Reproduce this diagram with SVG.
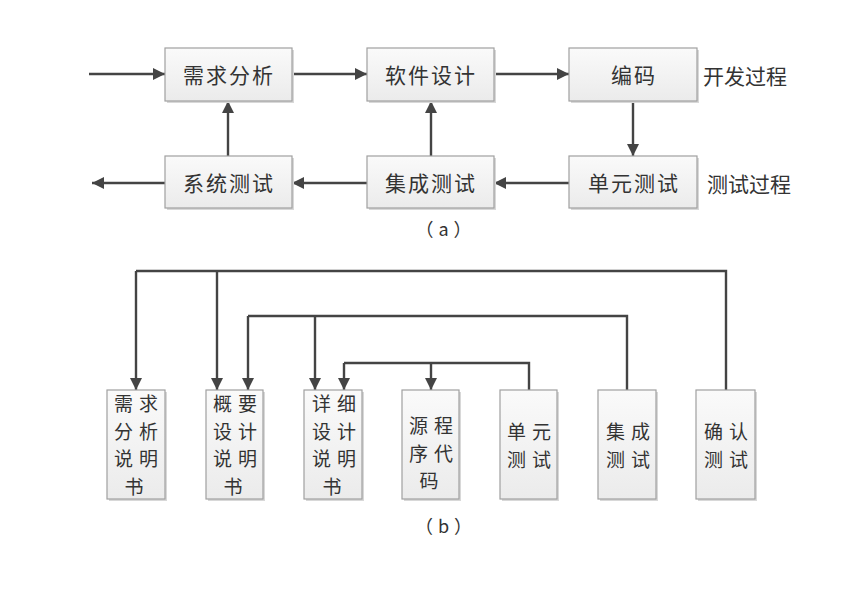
<svg xmlns="http://www.w3.org/2000/svg" width="866" height="591" viewBox="0 0 866 591">
<style>
.box{fill:url(#g);stroke:#a0a0a0;stroke-width:1.2}
.sh{fill:#d8d8d8}
.t{font-family:"Noto Sans CJK SC","Noto Sans CJK TC",sans-serif;font-size:21px;fill:#333;text-anchor:middle;dominant-baseline:central;letter-spacing:2px}
.v{font-family:"Noto Sans CJK SC","Noto Sans CJK TC",sans-serif;font-size:19px;fill:#333;text-anchor:middle;dominant-baseline:central;letter-spacing:6px}
.ln{fill:none;stroke:#444;stroke-width:2.4}
.ar{fill:none;stroke:#444;stroke-width:2.4;marker-end:url(#m)}
</style>
<defs>
<linearGradient id="g" x1="0" y1="0" x2="0" y2="1"><stop offset="0" stop-color="#fafafa"/><stop offset="1" stop-color="#ebebeb"/></linearGradient>
<marker id="m" viewBox="0 0 12 12" refX="12" refY="6" markerWidth="12" markerHeight="12" markerUnits="userSpaceOnUse" orient="auto"><path d="M0,0 L12,6 L0,12 Z" fill="#444"/></marker>
</defs>
<rect width="866" height="591" fill="#fff"/>
<g id="connectors">
<path class="ar" d="M89,74 H165"/>
<path class="ar" d="M292,74 H367"/>
<path class="ar" d="M494,74 H569"/>
<path class="ar" d="M633,101 V156"/>
<path class="ar" d="M569,183 H494"/>
<path class="ar" d="M367,183 H292"/>
<path class="ar" d="M165,183 H92"/>
<path class="ar" d="M228,156 V101"/>
<path class="ar" d="M431,156 V101"/>
<path class="ln" d="M136,271 H726 V390"/>
<path class="ar" d="M136,271 V390"/>
<path class="ar" d="M217,271 V390"/>
<path class="ln" d="M248,316 H627 V390"/>
<path class="ar" d="M248,316 V390"/>
<path class="ar" d="M315,316 V390"/>
<path class="ln" d="M344,363 H529 V390"/>
<path class="ar" d="M344,363 V390"/>
<path class="ar" d="M431,363 V390"/>
</g>
<g id="n1"><rect class="sh" x="167" y="50" width="127" height="53"/><rect class="box" x="165" y="48" width="127" height="53"/><text class="t" x="229" y="74">需求分析</text></g>
<g id="n2"><rect class="sh" x="369" y="50" width="127" height="53"/><rect class="box" x="367" y="48" width="127" height="53"/><text class="t" x="431" y="74">软件设计</text></g>
<g id="n3"><rect class="sh" x="571" y="50" width="128" height="53"/><rect class="box" x="569" y="48" width="128" height="53"/><text class="t" x="634" y="74">编码</text></g>
<g id="n4"><rect class="sh" x="571" y="158" width="128" height="52"/><rect class="box" x="569" y="156" width="128" height="52"/><text class="t" x="634" y="182">单元测试</text></g>
<g id="n5"><rect class="sh" x="369" y="158" width="127" height="52"/><rect class="box" x="367" y="156" width="127" height="52"/><text class="t" x="431" y="182">集成测试</text></g>
<g id="n6"><rect class="sh" x="167" y="158" width="127" height="52"/><rect class="box" x="165" y="156" width="127" height="52"/><text class="t" x="229" y="182">系统测试</text></g>
<g id="labels">
<text class="t" x="745" y="75" style="letter-spacing:0">开发过程</text>
<text class="t" x="749" y="183" style="letter-spacing:0">测试过程</text>
<text class="t" x="446" y="228" style="font-size:18px;letter-spacing:5px">（a）</text>
<text class="t" x="446" y="525" style="font-size:18px;letter-spacing:5px">（b）</text>
</g>
<g id="b1"><rect class="sh" x="109" y="392" width="58" height="109"/><rect class="box" x="107" y="390" width="58" height="109"/><text class="v"><tspan x="139" y="402">需求</tspan><tspan x="139" y="429.5">分析</tspan><tspan x="139" y="457">说明</tspan><tspan x="137" y="484.5">书</tspan></text></g>
<g id="b2"><rect class="sh" x="208" y="392" width="57" height="109"/><rect class="box" x="206" y="390" width="57" height="109"/><text class="v"><tspan x="238" y="402">概要</tspan><tspan x="238" y="429.5">设计</tspan><tspan x="238" y="457">说明</tspan><tspan x="236" y="484.5">书</tspan></text></g>
<g id="b3"><rect class="sh" x="306" y="392" width="58" height="109"/><rect class="box" x="304" y="390" width="58" height="109"/><text class="v"><tspan x="337" y="402">详细</tspan><tspan x="337" y="429.5">设计</tspan><tspan x="337" y="457">说明</tspan><tspan x="335" y="484.5">书</tspan></text></g>
<g id="b4"><rect class="sh" x="404" y="392" width="57" height="109"/><rect class="box" x="402" y="390" width="57" height="109"/><text class="v"><tspan x="434" y="424">源程</tspan><tspan x="434" y="451.5">序代</tspan><tspan x="432" y="479">码</tspan></text></g>
<g id="b5"><rect class="sh" x="502" y="392" width="57" height="109"/><rect class="box" x="500" y="390" width="57" height="109"/><text class="v"><tspan x="532" y="430">单元</tspan><tspan x="532" y="458">测试</tspan></text></g>
<g id="b6"><rect class="sh" x="600" y="392" width="58" height="109"/><rect class="box" x="598" y="390" width="58" height="109"/><text class="v"><tspan x="631" y="430">集成</tspan><tspan x="631" y="458">测试</tspan></text></g>
<g id="b7"><rect class="sh" x="698" y="392" width="59" height="109"/><rect class="box" x="696" y="390" width="59" height="109"/><text class="v"><tspan x="729" y="430">确认</tspan><tspan x="729" y="458">测试</tspan></text></g>
</svg>
